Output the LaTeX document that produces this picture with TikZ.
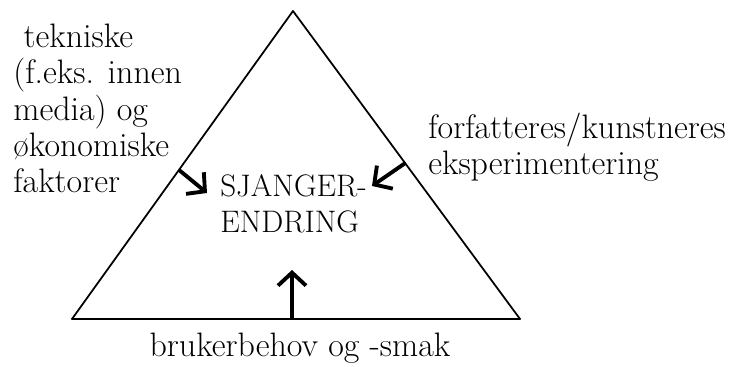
\documentclass[tikz,border=0pt]{standalone}
\usepackage{tikz}
\usetikzlibrary{arrows.meta,positioning,calc}

\tikzset{
    label/.style={inner sep=0pt, align=left, font=\fontsize{19.3}{20.7}\selectfont},
    capslabel/.style={label, font=\fontsize{17.7}{21}\selectfont},
    pushes/.style={-{Straight Barb[length=2.6mm, width=5.6mm]}, line width=2.2pt},
}

\begin{document}
\begin{tikzpicture}
    \useasboundingbox (0, 0) rectangle (14.6, 7.34);

    % Triangle
    \coordinate (top) at (5.86, 7.12);
    \coordinate (bl) at (1.44, 0.96);
    \coordinate (br) at (10.40, 0.96);
    \draw[line width=1pt, line join=round] (bl) -- (top) -- (br);
    \draw[line width=1.4pt, line cap=round] (bl) -- (br);

    % Texts (base = last line)
    \node[label, anchor=base west] (tech) at (0.26, 3.48)
        {\ tekniske\\(f.eks. innen\\media) og\\økonomiske\\faktorer};
    \node[capslabel, anchor=base west] (change) at (4.40, 2.68) {SJANGER-\\ENDRING};
    \node[label, anchor=base west] (art) at (8.56, 3.84)
        {forfatteres/kunstneres\\eksperimentering};
    \node[label, anchor=base] (user) at (6.0, 0.20) {brukerbehov og -smak};

    % Arrows
    \coordinate (techin) at ($(bl)!0.484!(top)$);
    \coordinate (artin) at ($(br)!0.506!(top)$);
    \coordinate (userin) at (5.84, 0.96);
    \coordinate (techend) at (4.14, 3.48);
    \coordinate (artend) at (7.44, 3.62);
    \coordinate (userend) at (5.84, 1.94);
    \draw[pushes] (techin) -- (techend);
    \draw[pushes] (artin) -- (artend);
    \draw[pushes] (userin) -- (userend);
\end{tikzpicture}
\end{document}
